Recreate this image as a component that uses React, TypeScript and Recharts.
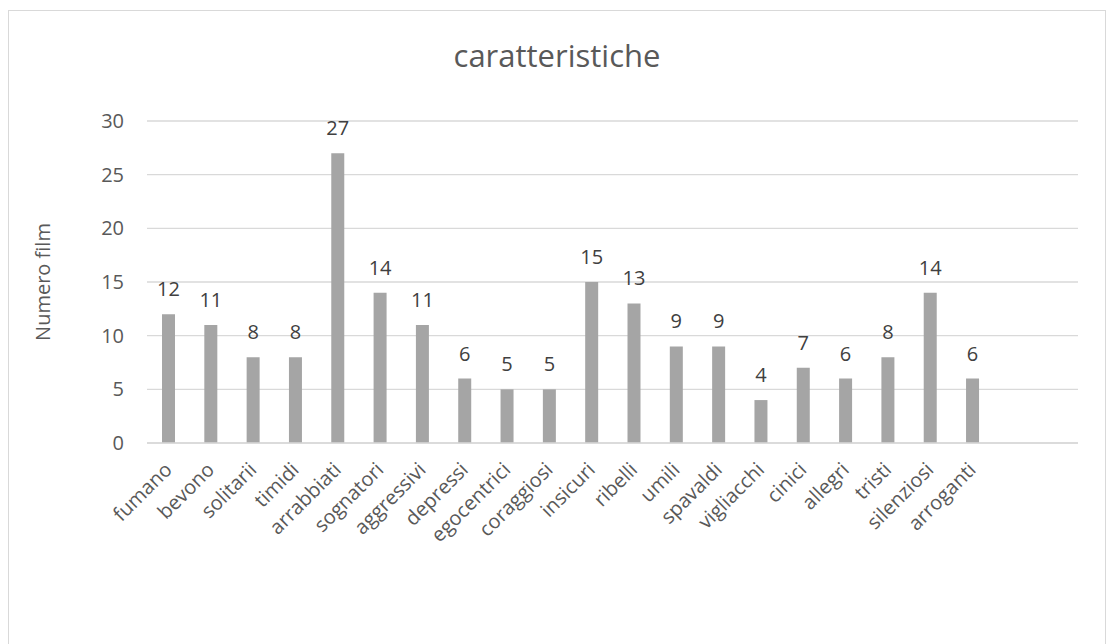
import { BarChart, Bar, XAxis, YAxis, CartesianGrid, LabelList } from 'recharts';

const categories = [
    'fumano', 'bevono', 'solitarii', 'timidi', 'arrabbiati', 'sognatori', 'aggressivi',
    'depressi', 'egocentrici', 'coraggiosi', 'insicuri', 'ribelli', 'umili', 'spavaldi',
    'vigliacchi', 'cinici', 'allegri', 'tristi', 'silenziosi', 'arroganti', '', '',
];
const filmCounts = [12, 11, 8, 8, 27, 14, 11, 6, 5, 5, 15, 13, 9, 9, 4, 7, 6, 8, 14, 6, null, null];
const yTicks = [0, 5, 10, 15, 20, 25, 30];

const data = categories.map((name, i) => ({ name, films: filmCounts[i] }));

const FONT = '"Open Sans", "DejaVu Sans", sans-serif';
const textColor = '#595959';

// eslint-disable-next-line @typescript-eslint/no-explicit-any
const AngledTick = ({ x, y, payload }: any) => {
    if (!payload.value) return null;
    const tx = x + 5;
    const ty = y + 28;
    return (
        <text x={tx} y={ty} transform={`rotate(-45 ${tx} ${ty})`} textAnchor="end"
            fill={textColor} fontSize={20} fontFamily={FONT}>
            {payload.value}
        </text>
    );
};

// eslint-disable-next-line @typescript-eslint/no-explicit-any
const YTitle = ({ viewBox }: any) => {
    const cx = 33;
    const cy = viewBox.y + viewBox.height / 2;
    return (
        <text x={cx} y={cy} transform={`rotate(-90 ${cx} ${cy})`} textAnchor="middle"
            dominantBaseline="central" fill={textColor} fontSize={20} fontFamily={FONT}>
            Numero film
        </text>
    );
};

export default function App() {
    return (
        <div style={{
            position: 'absolute', left: 8, top: 10, width: 1098, height: 634, boxSizing: 'border-box',
            border: '1px solid #d9d9d9', borderBottom: 'none', background: '#fff', fontFamily: FONT,
        }}>
            <div style={{
                position: 'absolute', left: 0, right: 0, top: 23, textAlign: 'center',
                fontSize: 31, lineHeight: '42px', color: textColor,
            }}>
                caratteristiche
            </div>
            <BarChart width={1096} height={632} data={data}
                margin={{ top: 110, right: 27, left: 0, bottom: 100 }}>
                <CartesianGrid vertical={false} stroke="#d9d9d9" strokeWidth={1.3} />
                <XAxis dataKey="name" height={100} interval={0} tick={<AngledTick />}
                    tickLine={false} tickSize={0} tickMargin={0}
                    axisLine={{ stroke: '#d9d9d9', strokeWidth: 1.3 }} />
                <YAxis width={138} domain={[0, 30]} ticks={yTicks} axisLine={false} tickLine={false}
                    tickSize={0} tickMargin={23}
                    tick={{ fill: textColor, fontSize: 20, fontFamily: FONT }}
                    label={<YTitle />} />
                <Bar dataKey="films" fill="#a5a5a5" barSize={13} isAnimationActive={false}>
                    <LabelList dataKey="films" position="top" offset={18}
                        fill="#404040" fontSize={20} fontFamily={FONT} />
                </Bar>
            </BarChart>
        </div>
    );
}
